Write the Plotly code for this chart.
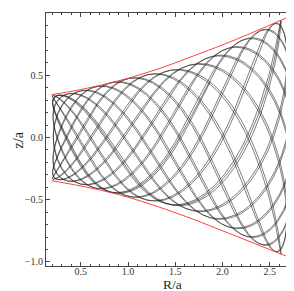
import numpy as np
import plotly.graph_objects as go

# ---- values ----
corner_outer = [2.62, 0.94]   # cusp of the orbit at large R (R/a, z/a), start at rest
corner_inner = [0.19, 0.32]   # inner corner of the orbit (same energy)
# model potential parameters (tuned to reproduce the orbit envelope)
Rd = 0.75        # radial scale of the vertical restoring force
nu2_ref = 2.0    # vertical frequency^2 at R = 1.3
s_core = 1.0     # core radius of the radial potential
h_soft = 0.3     # vertical softening length
T_total = 250.0  # integration time

# red envelope curves
env_R = [0.19, 0.5, 0.8, 1.0, 1.316, 1.7, 2.0, 2.3, 2.7]
env_top = [0.343, 0.385, 0.436, 0.476, 0.55, 0.657, 0.744, 0.837, 0.969]
envb_R = [0.19, 0.5, 0.8, 1.0, 1.316, 1.7, 2.0, 2.3, 2.82]
envb_z = [-0.348, -0.39, -0.44, -0.48, -0.556, -0.66, -0.75, -0.84, -0.998]

x_ticks = [0.5, 1.0, 1.5, 2.0, 2.5]
y_ticks = [-1.0, -0.5, 0.0, 0.5, 1.0]

A = nu2_ref * np.exp(1.3 / Rd)
h = h_soft


def phi(R, z):
    return -1.0 / np.sqrt(R * R + s_core ** 2) + A * np.exp(-R / Rd) * h * h * np.log(np.cosh(z / h))


def accel(R, z, Lz2):
    ex = A * np.exp(-R / Rd)
    lc = np.log(np.cosh(z / h))
    aR = -R / (R * R + s_core ** 2) ** 1.5 + ex / Rd * h * h * lc + Lz2 / R ** 3
    az = -ex * h * np.tanh(z / h)
    return aR, az


R1, z1 = corner_outer
R2, z2 = corner_inner
Lz2 = 2 * (phi(R1, z1) - phi(R2, z2)) / (1 / R2 ** 2 - 1 / R1 ** 2)

dt = 0.002
n = int(T_total / dt)
keep = 8
R, z, vR, vz = R1, z1, 0.0, 0.0
aR, az = accel(R, z, Lz2)
Rs = [R]
Zs = [z]
for i in range(1, n + 1):
    vR += 0.5 * dt * aR
    vz += 0.5 * dt * az
    R += dt * vR
    z += dt * vz
    aR, az = accel(R, z, Lz2)
    vR += 0.5 * dt * aR
    vz += 0.5 * dt * az
    if i % keep == 0:
        Rs.append(R)
        Zs.append(z)

fig = go.Figure()
fig.add_trace(go.Scatter(x=Rs, y=Zs, mode="lines",
                         line=dict(color="rgba(20,20,20,0.85)", width=0.65), hoverinfo="skip"))
fig.add_trace(go.Scatter(x=env_R, y=env_top, mode="lines",
                         line=dict(color="#ff2a2a", width=0.9, shape="spline"), hoverinfo="skip"))
fig.add_trace(go.Scatter(x=envb_R, y=envb_z, mode="lines",
                         line=dict(color="#ff2a2a", width=0.9, shape="spline"), hoverinfo="skip"))

axis_common = dict(showline=True, mirror="ticks", linecolor="#444", linewidth=1,
                   ticks="inside", ticklen=4, tickcolor="#444", showgrid=False, zeroline=False,
                   tickfont=dict(family="Liberation Serif", size=10, color="#333"),
                   minor=dict(ticks="inside", ticklen=2, dtick=0.1, tickcolor="#444"))
fig.update_layout(width=294, height=291, margin=dict(l=38, r=3, t=5, b=33),
                  paper_bgcolor="white", plot_bgcolor="white", showlegend=False)
fig.update_xaxes(range=[0.132, 2.81], tickvals=x_ticks, tickformat=".1f", ticklabelstandoff=-4, **axis_common)
fig.update_yaxes(range=[-1.033, 1.0], tickvals=y_ticks, tickformat=".1f", **axis_common)
fig.add_annotation(x=0.5, y=-0.074, xref="paper", yref="paper", text="R/a", showarrow=False,
                   xanchor="center", yanchor="middle", font=dict(family="Liberation Serif", size=13.5, color="#222"))
fig.add_annotation(x=-0.107, y=0.5, xref="paper", yref="paper", text="z/a", showarrow=False, textangle=-90,
                   xanchor="center", yanchor="middle", font=dict(family="Liberation Serif", size=14, color="#222"))
fig.write_html("out.html")
